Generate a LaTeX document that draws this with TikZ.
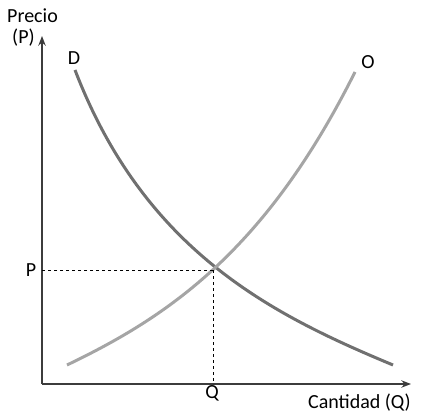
\documentclass[tikz,border=0pt]{standalone}
\usepackage{fontspec}
\setmainfont{Carlito}
\usetikzlibrary{arrows.meta, positioning}
\definecolor{cDem}{RGB}{112,112,112}
\definecolor{cOfe}{RGB}{165,165,165}
\definecolor{cAxis}{RGB}{60,60,60}
\tikzset{
	axis/.style   ={-{Stealth[length=3.4mm, width=2.6mm]}, line width=1.2pt, draw=cAxis},
	curve/.style  ={line width=3pt},
	guide/.style  ={line width=0.6pt, dash pattern=on 3pt off 3pt},
	lbl/.style    ={inner sep=0pt, font=\fontsize{20}{22}\selectfont},
}
\begin{document}
\begin{tikzpicture}[x=1pt, y=-1pt]
	\useasboundingbox (0,0) rectangle (425,414);
	\coordinate (o) at (42,384);
	\coordinate (yend) at (42,36);
	\coordinate (xend) at (411,384);
	\coordinate (eq) at (213,270);
	\draw[axis] (o) -- (yend);
	\draw[axis] (o) -- (xend);
	% demanda y oferta
	\draw[curve, cDem] (75,70) .. controls (145,252) and (273,315) .. (393,365);
	\draw[curve, cOfe] (67,365) .. controls (167,317) and (265,252) .. (355,72);
	\draw[guide] (eq) -- (eq -| o);
	\draw[guide] (eq) -- (eq |- o);
	\node[lbl, anchor=west] (precio) at (7,16) {Precio};
	\node[lbl, anchor=west] (pp) at (12,38) {(P)};
	\node[lbl] (d) at (74,58) {D};
	\node[lbl] (of) at (368,62) {O};
	\node[lbl] (p) at (31,270) {P};
	\node[lbl] (q) at (212,393) {Q};
	\node[lbl, anchor=east] (cant) at (411,403) {Cantidad (Q)};
\end{tikzpicture}
\end{document}
